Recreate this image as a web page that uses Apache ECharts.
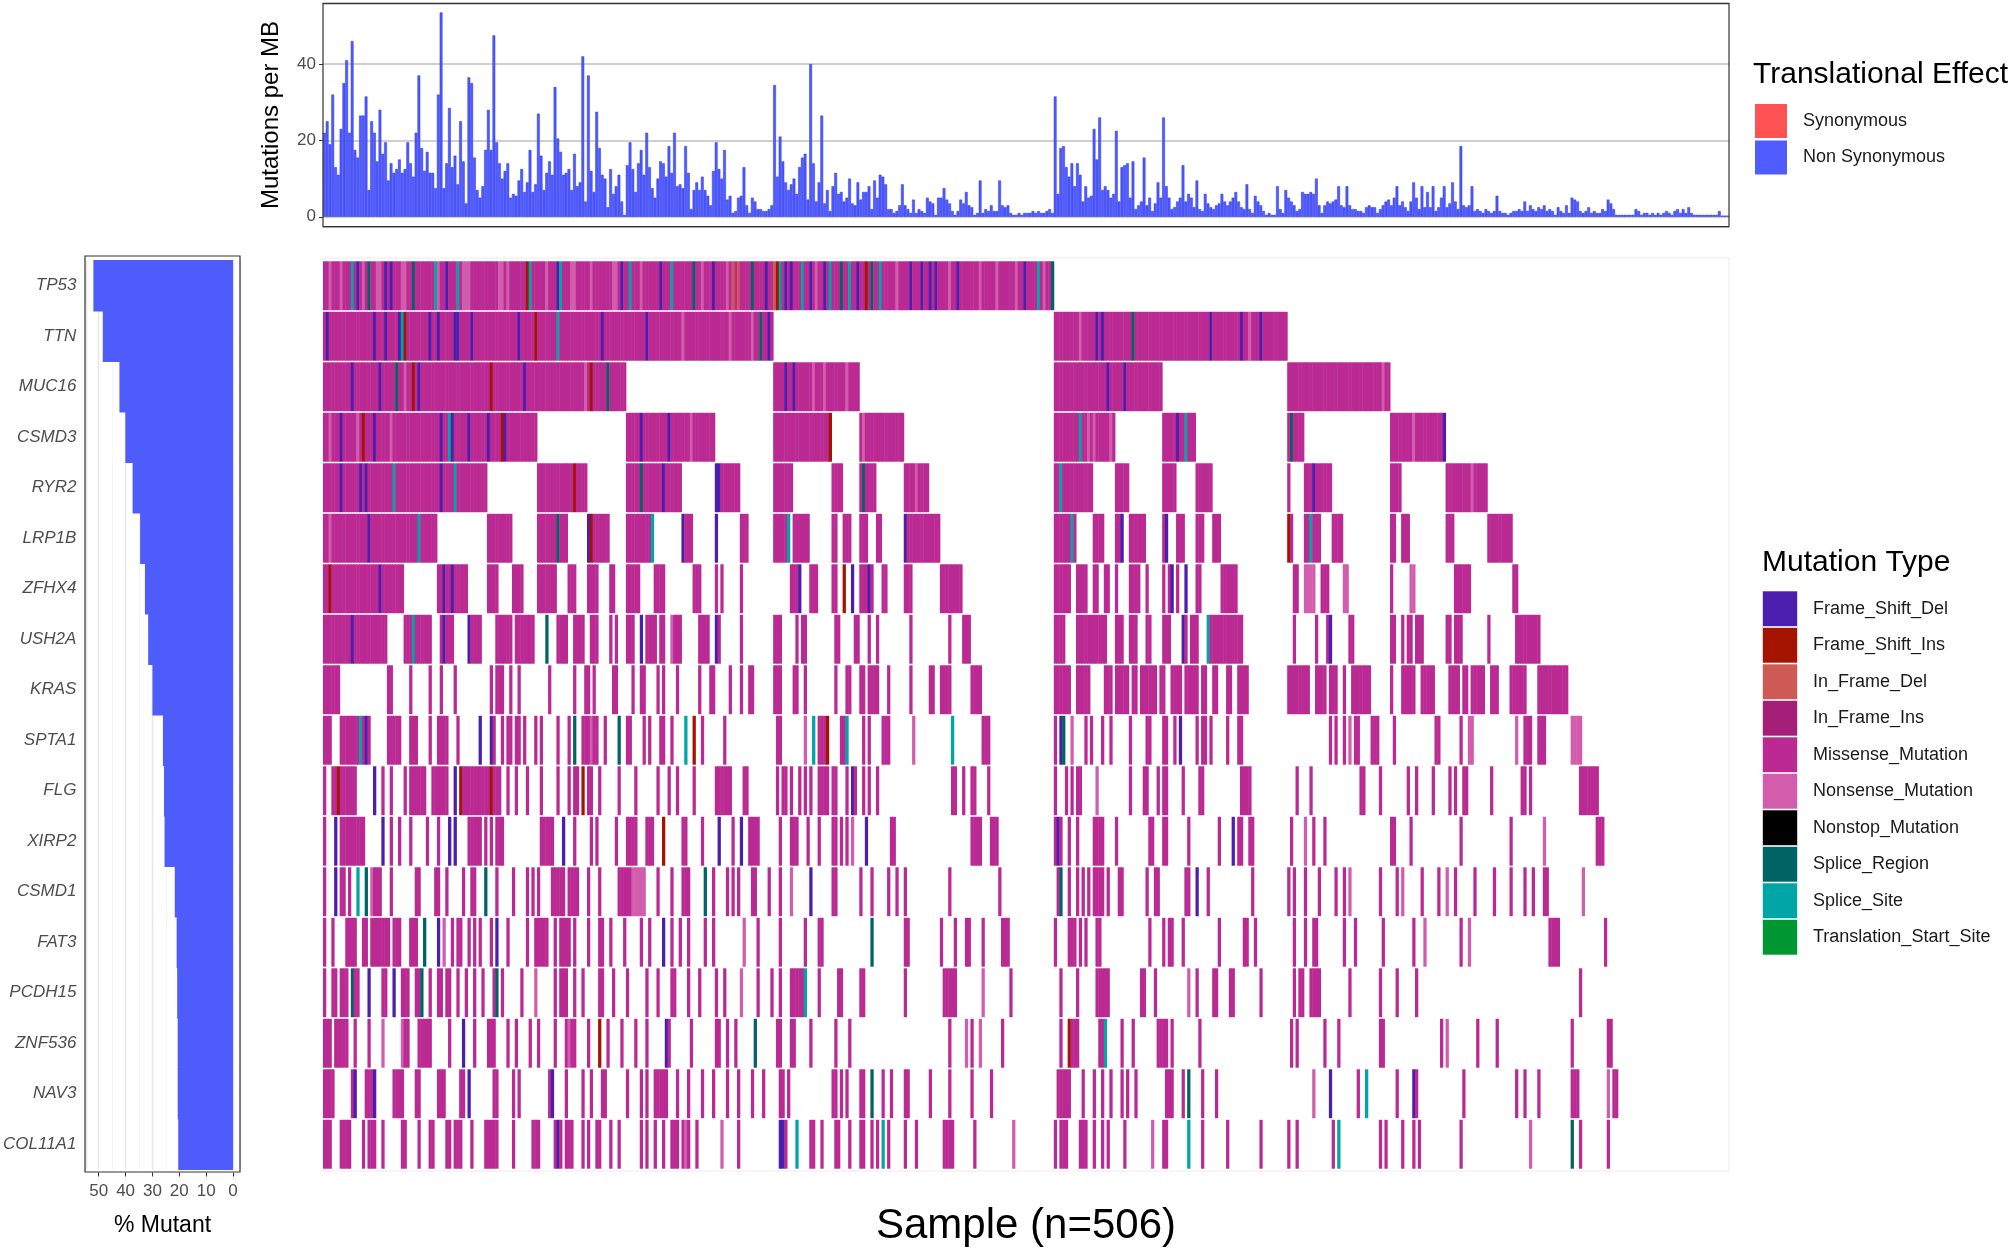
<!DOCTYPE html>
<html>
<head>
<meta charset="utf-8">
<script src="https://cdn.jsdelivr.net/npm/echarts@6/dist/echarts.min.js"></script>
<style>
  html, body { margin: 0; padding: 0; background: #fff; }
  #main { width: 2008px; height: 1251px; }
</style>
</head>
<body>
<div id="main"></div>
<script>
const FONT = '"Liberation Sans", Arial, Helvetica, sans-serif';

const genes = ["TP53", "TTN", "MUC16", "CSMD3", "RYR2", "LRP1B", "ZFHX4", "USH2A", "KRAS",
  "SPTA1", "FLG", "XIRP2", "CSMD1", "FAT3", "PCDH15", "ZNF536", "NAV3", "COL11A1"];
const mutantPct = [52.0, 48.5, 42.3, 40.1, 37.4, 34.6, 32.8, 31.6, 30.0,
  26.1, 25.7, 25.5, 21.7, 21.0, 20.8, 20.6, 20.6, 20.4];

const typeNames = ["Frame_Shift_Del", "Frame_Shift_Ins", "In_Frame_Del", "In_Frame_Ins",
  "Missense_Mutation", "Nonsense_Mutation", "Nonstop_Mutation", "Splice_Region",
  "Splice_Site", "Translation_Start_Site"];
const typeColors = ["#4b1fae", "#a51400", "#cd5a55", "#a51e78", "#ba2a92", "#d25dac",
  "#000000", "#006464", "#00a5a5", "#009632"];
// one letter per mutation type, same order as typeNames
const typeCodes = "DIdiMNXRST";

const effectNames = ["Synonymous", "Non Synonymous"];
const effectColors = ["#ff5353", "#4f5cff"];

// mutations per MB, one value per sample (506)
const tmb = [
  22, 25, 19, 32, 13, 11, 23, 35, 41, 22,
  46, 17.5, 15.5, 26.5, 26.5, 31.5, 7, 25, 22, 14.5,
  28, 16.5, 19.5, 9.5, 14, 11.5, 12.5, 15, 11.5, 12.5,
  19.5, 14, 10.5, 22, 37, 18, 12, 17, 11.5, 11.5,
  7.5, 32, 53.5, 7.5, 14, 28.5, 13, 16, 8.5, 25,
  14.5, 3.5, 36.5, 35, 15.5, 7, 5, 8, 17.5, 28,
  17.5, 47.5, 19.5, 14, 10, 12, 14, 5, 6, 5.5,
  9.5, 12.5, 6.5, 9, 17.5, 6.5, 8.5, 27, 16, 7,
  11.5, 14.5, 11, 34, 20.5, 17, 11, 11.5, 12.5, 7,
  16.5, 8, 9, 42, 4, 37, 12, 6.5, 27.5, 18,
  11, 10, 2.5, 12.5, 6, 8, 11, 4, 0.5, 13.5,
  19.5, 12.5, 6.5, 14, 17.5, 11, 22, 13, 7.5, 5,
  10, 14.5, 14, 10.5, 18.5, 11.5, 22, 8, 8.5, 7.5,
  18.5, 11.5, 2, 7, 9, 7, 10.5, 7, 5.5, 3,
  12, 19.5, 12.5, 10, 17.5, 4.5, 5.5, 1, 1.5, 5,
  5.5, 13, 3, 1, 5, 4, 2, 2, 1.5, 1.5,
  2, 3, 34.5, 10.5, 21, 14.5, 9, 7, 8.5, 10,
  6, 13, 15.5, 16.5, 4.5, 40, 14, 4, 9, 26.5,
  3.5, 7, 1.5, 8, 11.5, 6, 6.5, 4, 5, 10,
  3.5, 3, 9, 4.5, 6.5, 6.5, 8, 2, 9.5, 5,
  11, 10.5, 8.5, 2, 2, 1, 1.5, 3, 8.5, 3,
  2, 1, 4.5, 1, 2, 1.5, 1, 5, 4, 3.5,
  0.5, 5, 5, 7.5, 4.5, 3.5, 1.5, 0.5, 1.5, 4.5,
  3.5, 6.5, 3, 2.5, 0.5, 1, 9.5, 1, 2, 1.5,
  3, 1.5, 1.5, 9.5, 3, 2.5, 3, 1, 0.5, 0.5,
  1, 0.5, 1, 1, 1, 1.5, 1, 1.5, 1, 1,
  1.5, 2, 1, 31.5, 6, 18, 18.5, 13, 10.5, 14,
  8, 14, 11, 4, 8, 5, 5.5, 23, 15, 26,
  7, 8, 7, 5, 6, 22.5, 4, 13, 13.5, 14,
  5, 14.5, 2, 3, 4, 15.5, 3, 5, 1.5, 3.5,
  9, 5, 26, 8, 5, 2, 2.5, 4, 5, 13.5,
  4, 6, 5, 2.5, 9.5, 2, 1.5, 6, 3.5, 2.5,
  2, 3, 3.5, 6, 4, 3, 4, 5, 6.5, 4,
  2.5, 2, 8.5, 2, 1, 5.5, 4, 3, 1.5, 0.5,
  1, 0.5, 0.5, 8, 2, 1, 7, 5, 4, 3,
  1.5, 2, 6.5, 6, 6, 6.5, 6, 10, 3, 1,
  3, 4, 3.5, 4, 4.5, 8, 3, 2.5, 8, 3,
  2, 2, 1.5, 1.5, 1, 2.5, 3, 2.5, 2.5, 1,
  2, 3, 4, 4.5, 3, 5, 8, 3, 4, 2.5,
  1.5, 4, 9, 5, 2, 8, 2.5, 6.5, 2.5, 8,
  1.5, 2.5, 5, 8, 2.5, 3.5, 9, 4, 2, 18.5,
  3, 2.5, 3, 8, 1.5, 2, 1.5, 1, 2, 1.5,
  1, 1.5, 5.5, 1.5, 1, 1, 0.5, 1, 1.5, 1.5,
  2, 1.5, 4, 1.5, 3, 2, 1.5, 2.5, 2, 3,
  1.5, 2, 1.5, 0.5, 2.5, 1.5, 1, 3, 1, 5,
  4.5, 4, 1.5, 1, 1.5, 2.5, 1, 1.5, 1, 1,
  2, 1.5, 4.5, 3.5, 2, 0.5, 0.5, 0.5, 0.5, 0.5,
  0.5, 0.5, 2, 1.5, 0.5, 1, 1, 0.5, 1, 0.5,
  1, 0.5, 1, 1.5, 1, 0.5, 1.5, 2, 1, 2,
  1, 2.5, 1, 0.5, 0.5, 0.5, 0.5, 0.5, 0.5, 0.5,
  0.5, 0.5, 1.5, 0.3, 0.3, 0.3
];

// mutated samples per gene (0-based sample index, "a-b" = range), drawn as Missense
const hitRuns = [
  "0-262",
  "0-161 263-346",
  "0-108 162-192 263-301 347-383",
  "0-76 109-140 162-182 193-208 263-284 302-313 347-352 384-403",
  "0-58 77-94 109-128 141-149 162-168 183-186 193-198 209-217 263-276 285-289 302-306 314-319 347 353-362 384-387 404-418",
  "0-40 59-67 77-87 95-102 109-118 129-132 141 150-152 162-167 169-174 183-184 187-189 193-195 199-200 209-221 263-270 277-280 285-287 290-295 302-303 307-309 314-316 320-322 347-348 353-358 363-366 384-385 388-390 404-406 419-427",
  "0-28 41-51 59-62 68-71 77-83 88-90 95-98 103-104 109-113 119-122 133-135 141 143 150 168-171 175-177 183-184 187 190 193-197 201-202 209-211 222-229 263-268 271-274 277-278 281-282 285 290-293 296 302 304-305 307 310 314-315 323-328 349-350 353-356 359-361 367-368 384 391-392 407-412 428-429",
  "0-22 29-38 42-46 52-56 62-67 69-75 80 84-87 90-93 96-98 103 105 109-111 114 116-119 121-122 125-128 135-138 141-142 150 162-164 170 172-173 184-185 191-192 196 199 211 225 230-232 263-266 271-281 285-287 290-292 296-297 302-304 309-310 312-314 318-330 349 357 361-362 369-370 384-385 388 390-391 393-395 404-405 407-409 419 429-437",
  "0-5 23-24 31 38 42 47 60 62-64 67 70 81 90 94-95 97 104-105 111 114-115 120 122 127 135 139-140 146 150 153-154 162-164 169-170 173 184 188-189 193-194 196-199 203 211 218-219 222-225 233-236 263-268 271-275 281-283 285-289 291-292 294-299 301-302 305-308 310-314 316-317 320-321 325-326 329-332 347-354 357-360 362-364 367 370-376 384 388-392 395-399 405-408 410-411 413-417 420-422 427-432 437-447",
  "0-2 6-16 23-27 31-33 38 41-44 48 56 60-61 64 66-67 69-70 72 76 78 84 88 90 93-98 101 106 109-110 115 117 121-122 125 130 133 136 144 163-164 173 176 178-181 186-188 194 196 201-203 212 226 237-239 263 265-266 269 274 276 280 283 290 296-297 302-303 306 308 314 316-317 319 325 329-330 362 364 367 369 371-372 377-379 385 400-401 409 412-413 429 432-434 437-439 449-452",
  "0 3-11 18 21 24 29 31-36 39-44 47 49-63 66 69 73 78 84 88 90-91 93 95-96 99 106 112 120 124 127 133 141-146 151-152 163 165-166 168 171 173 175 178-181 183-184 188 190-191 194 196 199 226-227 230 233-234 239 263 267 269 271-272 278 290 295-296 300 302-303 309 315-316 330-333 350 355 373-374 380 390 393 399 405 407 410-411 420 431-432 434 452-458",
  "0 4 6-14 21 24 27 31 37 41 45 47 52-56 58 60 62-64 78-82 86 90 96 98 105 109-112 116-118 122 129-130 136 142 147 150 153-156 164 168-170 174 178 183-184 186 188 190 195 204-205 233-236 240-242 263-265 268 271 277-280 285 297-298 302-303 311 322 327 329-330 333-334 348 353 356 360 384-385 391 409 427 439 458-460",
  "0 4 6-7 9 12 15 17-20 24 33-34 40-41 44 50 53-54 58 62 68 73 75 77 82-86 88-91 95 99 106-115 120 125 129-131 137 140 145 147 149 154-155 160 164 168 175 183-184 193 197 203 206 209 225 243 264-265 268 271 273 275 277-280 282 286-287 296 299-300 310-311 314 318 334 347 349 353 358 364 367 369 380 386 388 395 401 404 407 414 421 427 432 435 439-440 453",
  "0 3 8-11 14-15 17-23 25-27 31-33 36 41 43 46 48-49 52 54 56 60 62 66 73 76-80 83 85-88 90 95 99-100 103 108 114 117 122 125 128 131 137 140 151 156 164 173 178-179 197 209-210 222 227 231-232 237 244-246 263 268-270 272 274 278-279 297 302 304-305 309 322 331-332 335 349 353 356-357 367 371 381 392 396 409 412 441-444 461",
  "0 3-4 6-8 10-12 16 21-22 25 28-30 33-35 38 41-42 44-45 48 51 54 57 61-62 64 71 76 83 85-87 90 93 99-100 104 109 116 120 125-126 131 135 141 144 150 156 161 164 168-173 178 185-186 193-194 209 223-227 237 247 265 271 278-282 294-295 299 311 314 320-321 326-327 337 349 351-352 355-358 369 380 386 393 452",
  "0-2 4-8 11 16 21 28-30 34-38 45 50 54 59-61 66 69 74 77 83 87-90 95 99 102 107 112 116 123-124 132 141-142 145 148 155 163-164 168-169 175 184 189 225 231 233 236 244 265 268-271 279-281 287 291 300-303 305 315 348 350 360 365 380-381 402 404 415 422 449 462-463",
  "0-3 10-11 15-18 25-28 33-34 41-43 49-50 52 61-62 68 70 81-82 87 93 96 100-101 109 114 116 119-123 127 131 136 140 145 149 154 158 164-165 167 183-184 186 188 193-194 197 201 204 209-210 218 225 233 240 264-268 273 277 280 283 287 289 292 303-305 309 311 316 321 356 362 372 375 386 392-393 410 429 432 437 449-451 462 464-465",
  "0-2 6-9 14 16-18 21 28-29 34 38-39 44-45 47-49 53 58-62 68 75-77 83-85 87-89 93 95 98-99 103 106 114 116 119 122 125-127 129-131 134 143 149 164-166 170 175-176 179 184-185 189 193-194 197 199 201 203 209 213 223-226 234 248 263 265-267 272-274 277 280 282 288 298 302-303 311 316 325 337 347 350 363 365 380 382 388 392 394 409 434 449 452 462"
];

// non-missense calls per gene: sample (or range) + type letter from typeCodes
const hitMarks = [
  "2N 6N 10S 12D 14N 16R 19-20N 22D 24D 28-29N 32R 40S 41N 44D 48S 50-52N 63-64N 66N 73I 74S 80N 84D 85S 89-90N 96N 104-105N 107D 110S 114N 121D 125S 133R 136N 140D 145N 147d 149d 154R 159D 162d 163I 164S 166D 168D 172S 175D 177N 180D 182S 186R 189S 192D 195I 197R 200S 206N 211D 215D 218D 220D 225N 228D 236N 242N 249N 252D 257S 259N 262R",
  "1D 18D 22D 27D 28S 29I 38D 41D 47D 48D 53D 70D 76I 84S 100D 116D 129N 146N 154N 157R 160D 272N 278D 280D 291R 319D 330D 333N 337D",
  "10D 20D 26R 29N 32I 34D 60I 72D 94N 96I 102R 166D 169D 176N 180N 188N 282D 288D 381N",
  "2N 6D 12N 14I 18D 24N 42D 45S 46D 52D 59D 64I 65D 114D 124D 132N 182I 194N 272S 275N 277N 283N 307D 310S 348R 392N 403D",
  "6D 13D 15D 25S 42D 47S 90I 114R 122D 141-142D 194R 213N 265S 356D 413N",
  "2N 16D 34S 84R 95D 96I 118S 129D 141D 167S 209D 269S 287D 303D 347I 355S",
  "2I 20D 43D 46D 171D 187I 190D 196D 305D 310D 353-356N 367-368N 391-392N",
  "10D 32S 43D 52D 80R 114D 125N 141D 309D 318S 362D",
  "",
  "13S 15D 56D 60D 90R 96N 106R 130S 133I 173N 176S 181I 188S 212N 226S 265D 266R 269N 308D 369N 412-413N 429N 449-452N",
  "5I 18D 47D 49I 60I 93I 190D 278N",
  "4D 21D 45D 47D 86D 122I 142D 150D 190N 195D 264D 327D 353N 439N",
  "4D 12S 15R 17N 58R 111-115N 137R 168N 175D 265R 314D 369N 388N 404N 453N",
  "36R 41D 43N 62D 122D 151N 197R 396N 412N",
  "10R 16D 25D 35R 62R 76N 150N 173S 237N 311N",
  "21N 28N 50D 88N 99I 123D 155R 231N 236N 268I 281S 404N",
  "11D 18D 52D 82D 197R 311R 356N 362D 375S 392D 462N",
  "84D 130N 143N 164-165D 170S 201S 248N 298N 311S 365S 434N 449R"
];

const sampleCount = tmb.length;
const samples = tmb.map((v, i) => "S" + (i + 1));

// expand runs + marks into heatmap cells [sample, gene, type]
const codeIndex = {};
typeCodes.split("").forEach((c, i) => { codeIndex[c] = i; });
const cells = [];
genes.forEach((g, gi) => {
  const row = new Array(sampleCount).fill(-1);
  hitRuns[gi].split(/\s+/).filter(Boolean).forEach((tok) => {
    const parts = tok.split("-").map(Number);
    const a = parts[0], b = parts.length > 1 ? parts[1] : parts[0];
    for (let s = a; s <= b; s++) row[s] = codeIndex.M;
  });
  hitMarks[gi].split(/\s+/).filter(Boolean).forEach((tok) => {
    const m = tok.match(/^(\d+)(?:-(\d+))?([A-Za-z])$/);
    if (!m) return;
    const a = +m[1], b = m[2] ? +m[2] : a;
    for (let s = a; s <= b; s++) row[s] = codeIndex[m[3]];
  });
  row.forEach((t, s) => { if (t >= 0) cells.push([s, gi, t]); });
});

function renderCell(params, api) {
  const c = api.coord([api.value(0), api.value(1)]);
  const size = api.size([1, 1]);
  return {
    type: "rect",
    shape: { x: c[0] - size[0] / 2, y: c[1] - size[1] / 2 + 0.8, width: size[0] + 0.5, height: size[1] - 1.6 },
    style: { fill: typeColors[api.value(2)] }
  };
}

// % mutant bars drawn edge to edge, like the reference
function renderPct(params, api) {
  const end = api.coord([api.value(0), api.value(1)]);
  const start = api.coord([0, api.value(1)]);
  const size = api.size([0, 1]);
  return {
    type: "rect",
    shape: { x: end[0], y: end[1] - size[1] / 2 - 0.5, width: start[0] - end[0], height: size[1] + 1 },
    style: { fill: "#4f5cfc" }
  };
}

function txt(text, x, y, size, opts) {
  opts = opts || {};
  return {
    type: "text", x: x, y: y, rotation: opts.rotation || 0, z: 120,
    style: {
      text: text, fill: opts.color || "#000", fontSize: size, fontFamily: FONT,
      fontStyle: opts.italic ? "italic" : "normal",
      align: opts.align || "left", verticalAlign: "middle",
      textAlign: opts.align || "left", textVerticalAlign: "middle"
    }
  };
}

const graphics = [
  { type: "rect", z: 100, shape: { x: 323, y: 3.3, width: 1406, height: 223.4 },
    style: { fill: "none", stroke: "#333", lineWidth: 1.2 } },
  { type: "rect", z: 100, shape: { x: 85, y: 256, width: 155, height: 916 },
    style: { fill: "none", stroke: "#333", lineWidth: 1.2 } },
  { type: "rect", z: 1, shape: { x: 323, y: 258, width: 1406, height: 913 },
    style: { fill: "none", stroke: "#ececec", lineWidth: 1 } },
  txt("Mutations per MB", 271, 115, 24, { rotation: Math.PI / 2, align: "center", color: "#000" }),
  txt("% Mutant", 162.5, 1226, 23, { align: "center" }),
  txt("Sample (n=506)", 1026, 1226, 42, { align: "center" }),
  txt("Translational Effect", 1753, 75, 30),
  txt("Mutation Type", 1762, 563, 30)
];
effectNames.forEach((n, i) => {
  graphics.push({ type: "rect", z: 110, shape: { x: 1755, y: 104 + i * 36.5, width: 32, height: 34 },
    style: { fill: effectColors[i] } });
  graphics.push(txt(n, 1803, 121 + i * 36.5, 18, { color: "#1a1a1a" }));
});
typeNames.forEach((n, i) => {
  graphics.push({ type: "rect", z: 110, shape: { x: 1762.5, y: 591 + i * 36.5, width: 35, height: 35.5 },
    style: { fill: typeColors[i], stroke: "#ffffff", lineWidth: 0.6 } });
  graphics.push(txt(n, 1813, 608.7 + i * 36.5, 18, { color: "#1a1a1a" }));
});

const chart = echarts.init(document.getElementById("main"), null, { renderer: "canvas" });
const option = {
  animation: false,
  backgroundColor: "#ffffff",
  textStyle: { fontFamily: FONT },
  grid: [
    { left: 323, top: 3.3, width: 1406, height: 223.4 },
    { left: 85, top: 260.5, width: 155, height: 909 },
    { left: 323, top: 260.5, width: 1406, height: 909 }
  ],
  xAxis: [
    { gridIndex: 0, type: "category", data: samples, show: false },
    {
      gridIndex: 1, type: "value", inverse: true, min: -2.6, max: 54.6, splitNumber: 5,
      position: "bottom", offset: 3,
      axisLine: { show: false },
      axisTick: { show: true, length: 4, lineStyle: { color: "#333" } },
      axisLabel: { fontSize: 17, color: "#4d4d4d", margin: 10, showMinLabel: false, showMaxLabel: false },
      splitLine: { show: true, lineStyle: { color: "#e6e6e6", width: 1.4 } },
      minorTick: { show: false, splitNumber: 2 },
      minorSplitLine: { show: true, lineStyle: { color: "#f3f3f3", width: 0.8 } }
    },
    { gridIndex: 2, type: "category", data: samples, show: false }
  ],
  yAxis: [
    {
      gridIndex: 0, type: "value", min: -2.6, max: 55.9, splitNumber: 3,
      axisLine: { show: false },
      axisTick: { show: true, length: 4, lineStyle: { color: "#333" } },
      axisLabel: { fontSize: 17, color: "#4d4d4d", margin: 7, showMinLabel: false, showMaxLabel: false },
      splitLine: { show: true, lineStyle: { color: "#cfcfcf", width: 2 } }
    },
    {
      gridIndex: 1, type: "category", data: genes, inverse: true,
      axisLine: { show: false },
      axisTick: { show: true, length: 5, alignWithLabel: true, lineStyle: { color: "#333" } },
      axisLabel: { fontSize: 17, fontStyle: "italic", color: "#4d4d4d", margin: 10 },
      splitLine: { show: false }
    },
    { gridIndex: 2, type: "category", data: genes, inverse: true, show: false }
  ],
  series: [
    {
      type: "bar", xAxisIndex: 0, yAxisIndex: 0, data: tmb, barWidth: "100%",
      itemStyle: { color: "#505cfb", borderColor: "#2a34f0", borderWidth: 0.5 }
    },
    {
      type: "custom", xAxisIndex: 1, yAxisIndex: 1, renderItem: renderPct,
      data: mutantPct.map((v, i) => [v, i]), encode: { x: 0, y: 1 }
    },
    {
      type: "custom", xAxisIndex: 2, yAxisIndex: 2, data: cells, renderItem: renderCell,
      encode: { x: 0, y: 1 }
    }
  ],
  graphic: graphics
};
chart.setOption(option);
</script>
</body>
</html>
